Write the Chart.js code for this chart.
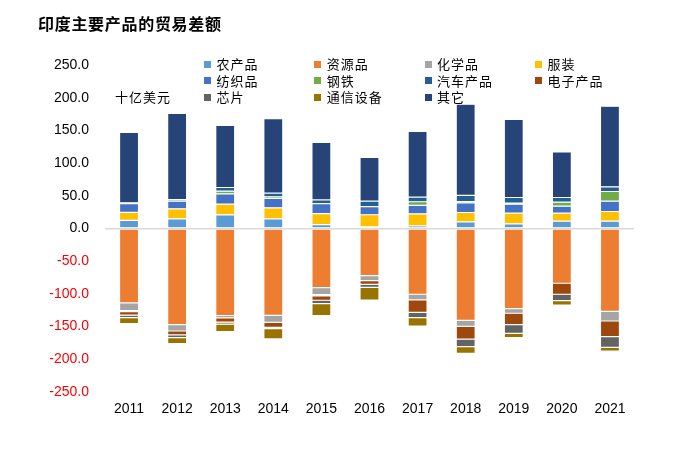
<!DOCTYPE html>
<html>
<head>
<meta charset="utf-8">
<script src="https://cdn.jsdelivr.net/npm/chart.js@4/dist/chart.umd.min.js"></script>
<style>
  body { margin: 0; background: #fff; }
  #wrap { position: relative; width: 689px; height: 451px; }
  #title { position: absolute; left: 38px; top: 12px; font: bold 16px "Noto Sans CJK SC", sans-serif; letter-spacing: 0.7px; line-height: 22px; color: #000; }
  #unit { position: absolute; left: 115px; top: 88px; font: 13px "Noto Sans CJK SC", sans-serif; letter-spacing: 1px; line-height: 18px; color: #000; }
  .lg { position: absolute; font: 13px "Noto Sans CJK SC", sans-serif; letter-spacing: 1px; line-height: 18px; color: #000; white-space: nowrap; }
  .lg i { position: absolute; left: 0; top: 5.5px; width: 7px; height: 7px; }
  .lg span { position: absolute; left: 12.5px; top: 0; }
</style>
</head>
<body>
<div id="wrap">
  <canvas id="c" width="689" height="451"></canvas>
  <div id="title">印度主要产品的贸易差额</div>
  <div id="unit">十亿美元</div>
</div>
<script>
// 十亿美元
const years = ['2011', '2012', '2013', '2014', '2015', '2016', '2017', '2018', '2019', '2020', '2021']
const agri = [12.3, 14.8, 20.9, 14.8, 6.0, 2.6, 4.1, 10.2, 7.1, 11.2, 11.2]
const resources = [-113.8, -147.0, -133.0, -132.7, -90.4, -72.0, -100.5, -140.4, -122.5, -83.7, -126.6]
const chemicals = [-11.7, -9.7, -3.6, -10.7, -10.7, -7.7, -8.7, -9.2, -7.1, 0, -14.8]
const apparel = [12.3, 15.3, 16.3, 16.8, 16.8, 18.4, 18.4, 14.3, 16.3, 12.3, 14.8]
const textiles = [13.3, 11.7, 15.8, 14.3, 15.3, 12.3, 12.8, 14.8, 13.8, 10.7, 15.8]
const steel = [-1.5, 0, 4.1, 2.6, -2.0, 0, 5.6, 2.0, 1.5, 6.1, 14.8]
const autos = [1.5, 2.5, 5.6, 5.6, 5.6, 8.7, 7.1, 9.2, 8.7, 7.1, 7.1]
const electronics = [-5.6, -6.1, -6.6, -7.7, -6.6, -5.6, -18.9, -19.4, -17.4, -16.8, -24.0]
const chips = [-3.6, -4.1, -3.1, -2.0, -5.1, -4.6, -8.2, -11.7, -13.3, -9.7, -16.3]
const telecom = [-9.2, -9.2, -11.2, -15.8, -18.4, -19.4, -12.8, -10.2, -6.6, -7.1, -5.6]
const others = [107.6, 131.7, 95.0, 113.9, 88.0, 66.7, 100.5, 139.5, 119.6, 69.6, 123.3]

const series = [
  ['农产品', agri, '#5B9BD5'],
  ['资源品', resources, '#ED7D31'],
  ['化学品', chemicals, '#A5A5A5'],
  ['服装', apparel, '#FFC000'],
  ['纺织品', textiles, '#4472C4'],
  ['钢铁', steel, '#70AD47'],
  ['汽车产品', autos, '#255E91'],
  ['电子产品', electronics, '#9E480E'],
  ['芯片', chips, '#636363'],
  ['通信设备', telecom, '#997300'],
  ['其它', others, '#264478'],
]

Chart.defaults.font.family = '"Liberation Sans", Arial, sans-serif'
Chart.defaults.font.size = 14

const chart = new Chart(document.getElementById('c'), {
  type: 'bar',
  data: {
    labels: years,
    datasets: series.map(([label, data, color]) => ({
      label,
      data,
      backgroundColor: color,
      borderColor: 'rgba(255,255,255,0.3)',
      borderWidth: 0.6,
      borderSkipped: false,
      barPercentage: 0.395,
      categoryPercentage: 1,
    })),
  },
  options: {
    responsive: false,
    animation: false,
    layout: {
      padding: { left: 0, right: 55, top: 65, bottom: 29 }
    },
    plugins: {
      legend: { display: false },
      title: { display: false },
    },
    scales: {
      x: {
        stacked: true,
        grid: { display: false, drawTicks: false },
        border: { display: false },
        ticks: { color: '#000', padding: 9 },
        afterFit: s => { s.height = 30 },
      },
      y: {
        stacked: true,
        min: -250,
        max: 250,
        border: { display: false },
        grid: {
          drawTicks: false,
          color: c => (c.tick && c.tick.value === 0 ? '#D9D9D9' : 'rgba(0,0,0,0)'),
          lineWidth: 1.5,
        },
        ticks: {
          stepSize: 50,
          padding: 16,
          color: c => (c.tick && c.tick.value < 0 ? '#FF0000' : '#000'),
          callback: v => v.toFixed(1),
        },
        afterFit: s => { s.width = 105 },
      },
    },
  },
})

// legend, 4 columns like the original
const wrap = document.getElementById('wrap')
series.forEach(([label, , color], i) => {
  const el = document.createElement('div')
  el.className = 'lg'
  el.style.left = (204 + (i % 4) * 110.3) + 'px'
  el.style.top = (55.3 + Math.floor(i / 4) * 16.5) + 'px'
  el.innerHTML = '<i style="background:' + color + '"></i><span>' + label + '</span>'
  wrap.appendChild(el)
})
</script>
</body>
</html>
